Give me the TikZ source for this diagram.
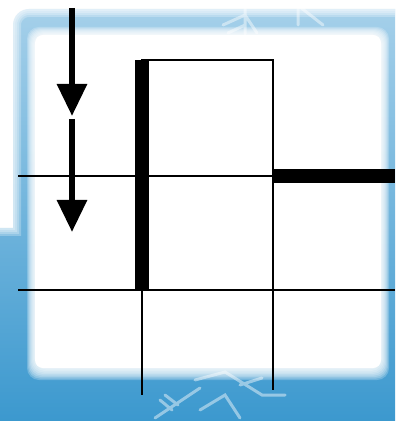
\documentclass[tikz,border=0pt]{standalone}
\usetikzlibrary{arrows.meta}
\definecolor{frameblue}{RGB}{55,150,205}
\definecolor{paleblue}{RGB}{165,208,234}
\begin{document}
\begin{tikzpicture}[x=0.5pt,y=-0.5pt,
    gridline/.style={black,line width=1.2pt},
    wall/.style={black,line width=6.75pt},
    flow/.style={black,line width=3pt,-{Triangle[length=16pt,width=14.5pt]}},
    flake/.style={white,opacity=.45,line width=1.5pt,line cap=round}]
    \useasboundingbox (0,0) rectangle (395,421);
    \clip (0,0) rectangle (395,421);
    % frame in the back
    \fill[white] (0,0) rectangle (395,421);
    \shade[top color=paleblue,bottom color=frameblue]
        (-20,228) -- (13,228) [rounded corners=8pt] -- (13,9) -- (430,9)
        [sharp corners] -- (430,440) -- (-20,440) -- cycle;
    \foreach \w in {2,4,6,8}
        \draw[white,opacity=.25,line width=\w pt]
            (-20,228) -- (13,228) [rounded corners=8pt] -- (13,9) -- (430,9);
    \foreach \d in {8,7,...,1}
        \fill[white,opacity=.22,rounded corners=6pt] (35-\d,35-\d) rectangle (381+\d,368+1.5*\d);
    \fill[white,rounded corners=4pt] (35,35) rectangle (381,368);
    % snowflakes
    \draw[flake] (245,0) -- (245,34) (223,25) -- (245,15) -- (257,33) (228,33) -- (245,25);
    \draw[flake] (298,3) -- (298,25) (298,7) -- (327,7) (300,7) -- (323,25);
    \draw[flake] (155,418) -- (200,388) (160,400) -- (172,410) (165,395) -- (178,405);
    \draw[flake] (195,380) -- (225,372) -- (262,395) -- (285,395) (240,385) -- (262,378)
        (200,410) -- (225,395) -- (240,418);
    % points of the grid
    \coordinate (tl) at (142,60);
    \coordinate (mr) at (273,176);
    \coordinate (ml) at (18,176);
    \coordinate (me) at (395,176);
    \coordinate (bl) at (18,290);
    \coordinate (bc) at (142,290);
    \coordinate (be) at (395,290);
    \coordinate (bcend) at (142,395);
    \coordinate (brend) at (273,390);
    \coordinate (a0) at (72,8);
    \coordinate (a1) at (72,116);
    \coordinate (a2) at (72,119);
    \coordinate (a3) at (72,232);
    % grid
    \draw[gridline] (tl) rectangle (mr);
    \draw[gridline] (ml) -- (mr);
    \draw[gridline] (bl) -- (be);
    \draw[gridline] (bc) -- (bcend);
    \draw[gridline] (mr) -- (brend);
    \draw[wall] (tl) -- (bc);
    \draw[black,line width=7pt] (mr) -- (me);
    % arrows
    \draw[flow] (a0) -- (a1);
    \draw[flow] (a2) -- (a3);
\end{tikzpicture}
\end{document}
